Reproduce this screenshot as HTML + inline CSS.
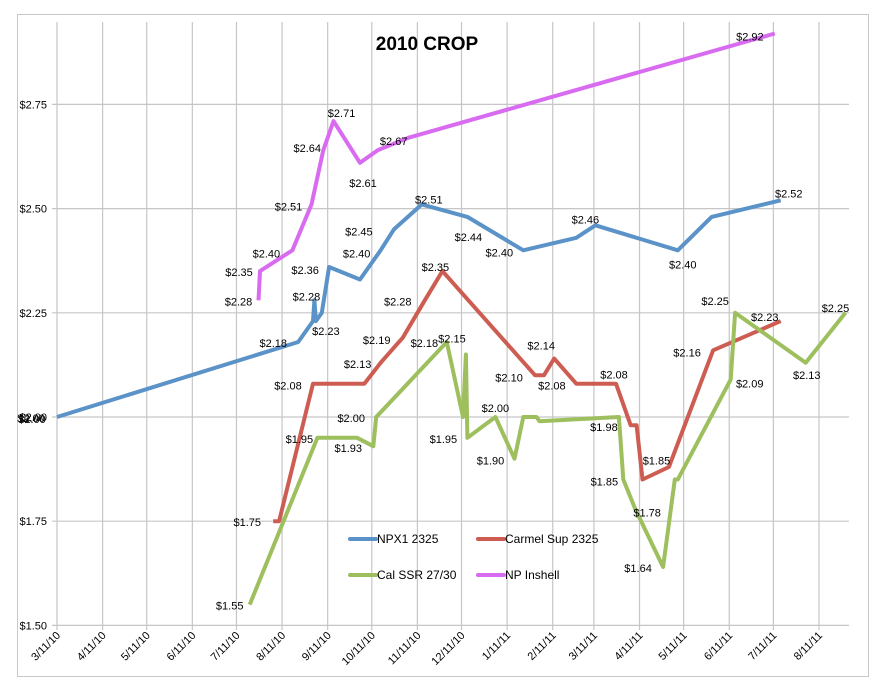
<!DOCTYPE html>
<html><head><meta charset="utf-8"><style>
html,body{margin:0;padding:0;background:#fff;}
svg{display:block;font-family:"Liberation Sans",sans-serif;}
</style></head><body>
<svg id="chart" width="889" height="696" viewBox="0 0 889 696" xmlns="http://www.w3.org/2000/svg">
<rect x="17.5" y="14.5" width="851" height="662" fill="#fff" stroke="#c8c8c8"/>
<g id="grid"></g><g id="axes"></g><g id="series"></g><g id="labels"></g>
<text x="427" y="50" text-anchor="middle" font-size="19" font-weight="bold">2010 CROP</text>
<g id="legend"></g>
</svg>
<script>
const xTickLabels = ["3/11/10","4/11/10","5/11/10","6/11/10","7/11/10","8/11/10","9/11/10","10/11/10","11/11/10","12/11/10","1/11/11","2/11/11","3/11/11","4/11/11","5/11/11","6/11/11","7/11/11","8/11/11"];
const yTicks = [1.50,1.75,2.00,2.25,2.50,2.75];
const seriesNames = ["NPX1 2325","Carmel Sup 2325","Cal SSR 27/30","NP Inshell"];
const blueDates = ["2010-03-11","2010-08-22","2010-09-01","2010-09-02","2010-09-03","2010-09-07","2010-09-12","2010-10-03","2010-10-17","2010-10-26","2010-11-14","2010-12-15","2011-01-22","2011-02-27","2011-03-12","2011-05-07","2011-05-30","2011-07-16"];
const blueValues = [2.00,2.18,2.23,2.28,2.23,2.25,2.36,2.33,2.40,2.45,2.51,2.48,2.40,2.43,2.46,2.40,2.48,2.52];
const redDates = ["2010-08-05","2010-08-09","2010-09-01","2010-10-06","2010-10-17","2010-10-27","2010-11-01","2010-11-16","2010-11-28","2011-01-30","2011-02-05","2011-02-12","2011-02-27","2011-03-26","2011-04-05","2011-04-09","2011-04-13","2011-05-01","2011-05-31","2011-07-16"];
const redValues = [1.75,1.75,2.08,2.08,2.13,2.17,2.19,2.28,2.35,2.10,2.10,2.14,2.08,2.08,1.98,1.98,1.85,1.88,2.16,2.23];
const greenDates = ["2010-07-20","2010-09-04","2010-10-01","2010-10-12","2010-10-14","2010-12-01","2010-12-12","2010-12-14","2010-12-15","2011-01-03","2011-01-16","2011-01-22","2011-01-31","2011-02-02","2011-03-28","2011-03-31","2011-04-08","2011-04-27","2011-05-05","2011-05-07","2011-06-12","2011-06-15","2011-08-02","2011-08-29"];
const greenValues = [1.55,1.95,1.95,1.93,2.00,2.18,2.00,2.15,1.95,2.00,1.90,2.00,2.00,1.99,2.00,1.85,1.78,1.64,1.85,1.85,2.09,2.25,2.13,2.25];
const pinkDates = ["2010-07-26","2010-07-27","2010-08-18","2010-08-31","2010-09-08","2010-09-15","2010-10-03","2010-10-15","2010-11-05","2011-07-12"];
const pinkValues = [2.28,2.35,2.40,2.51,2.64,2.71,2.61,2.64,2.67,2.92];
// label: series index, point index, text, offset
const pointLabels = [
[0,0,"$2.00",-25,2],[0,0,"$2.00",-26,1],[0,1,"$2.18",-25,1],[0,3,"$2.28",-8,-4],[0,4,"$2.23",10,10],[0,6,"$2.36",-24,3],[0,8,"$2.40",-24,3],[0,9,"$2.45",-35,2],[0,10,"$2.51",7,-5],[0,11,"$2.44",1,20],[0,12,"$2.40",-24,2],[0,14,"$2.46",-10,-6],[0,15,"$2.40",5,14],[0,17,"$2.52",8,-7],
[1,0,"$1.75",-26,1],[1,2,"$2.08",-25,2],[1,4,"$2.13",-23,1],[1,6,"$2.19",-26,2],[1,7,"$2.28",-27,1],[1,8,"$2.35",-7,-4],[1,5,"$2.18",29,-3],[1,9,"$2.10",-26,2],[1,10,"$2.08",8,10],[1,11,"$2.14",-13,-13],[1,13,"$2.08",-2,-9],[1,16,"$1.85",14,-19],[1,18,"$2.16",-26,2],[1,19,"$2.23",-16,-4],
[2,0,"$1.55",-20,1],[2,1,"$1.95",-18,1],[2,3,"$1.93",-25,2],[2,4,"$2.00",-25,1],[2,7,"$2.15",-14,-16],[2,8,"$1.95",-24,1],[2,10,"$1.90",-24,2],[2,9,"$2.00",0,-9],[2,14,"$1.98",-15,10],[2,15,"$1.85",-19,2],[2,16,"$1.78",12,4],[2,17,"$1.64",-25,1],[2,21,"$2.25",-20,-12],[2,20,"$2.09",19,4],[2,22,"$2.13",1,12],[2,23,"$2.25",-10,-5],
[3,0,"$2.28",-20,1],[3,1,"$2.35",-21,1],[3,2,"$2.40",-26,3],[3,3,"$2.51",-23,2],[3,4,"$2.64",-16,-2],[3,5,"$2.71",8,-8],[3,6,"$2.61",3,20],[3,7,"$2.67",16,-9],[3,9,"$2.92",-25,3]
];
const colors = ["#5b93c8","#cd5d52","#9dbf5e","#d86bf0"];
const NS="http://www.w3.org/2000/svg";
const T0 = Date.UTC(2010,2,11), DAY=86400000;
function xs(d){ const t = typeof d==="string" ? Date.parse(d+"T00:00:00Z") : d; return 57 + (t-T0)/DAY*1.471; }
function ys(v){ return 417 - (v-2)*416.8; }
function mk(tag,attrs,parent){const e=document.createElementNS(NS,tag);for(const k in attrs)e.setAttribute(k,attrs[k]);parent.appendChild(e);return e;}
const grid=document.getElementById('grid'), axes=document.getElementById('axes');
const tickDates = xTickLabels.map(s=>{const p=s.split('/');return Date.UTC(2000+ +p[2], +p[0]-1, +p[1]);});
tickDates.forEach((t,i)=>{
  const x=xs(t);
  const l=mk('line',{x1:x,x2:x,y1:22,y2:630,stroke:'#c6c6c6','stroke-width':1.2},grid);
  
  
  const tx=mk('text',{x:x+4,y:636,'font-size':11,'text-anchor':'end',transform:`rotate(-45 ${x+4} 636)`},axes);
  tx.textContent=xTickLabels[i];
  
  
});
yTicks.forEach(v=>{
  const y=ys(v);
  const l=mk('line',{x1:52,x2:849,y1:y,y2:y,stroke:'#c6c6c6','stroke-width':1.2},grid);
  
  
  const tx=mk('text',{x:47,y:y+4,'font-size':11,'text-anchor':'end'},axes);
  tx.textContent='$'+v.toFixed(2);
  
  
});
const allDates=[blueDates,redDates,greenDates,pinkDates], allVals=[blueValues,redValues,greenValues,pinkValues];
const sg=document.getElementById('series'), lg=document.getElementById('labels');
const lineNames=['npx1-line','carmel-line','cal-ssr-line','np-inshell-line'];
allDates.forEach((ds,s)=>{
  const pts=ds.map((d,i)=>xs(d).toFixed(1)+','+ys(allVals[s][i]).toFixed(1)).join(' ');
  const p=mk('polyline',{points:pts,fill:'none',stroke:colors[s],'stroke-width':4,'stroke-linejoin':'round'},sg);
  
  
});
pointLabels.forEach(([s,i,t,dx,dy])=>{
  const x=xs(allDates[s][i])+dx, y=ys(allVals[s][i])+dy;
  const tx=mk('text',{x:x,y:y+4,'font-size':11,'text-anchor':'middle'},lg);
  tx.textContent=t;
  
  
});
const leg=document.getElementById('legend');
const legPos=[[350,539],[478,539],[350,575],[478,575]];
seriesNames.forEach((n,s)=>{
  const [x,y]=legPos[s];
  const g=mk('g',{},leg);
  
  
  mk('line',{x1:x,x2:x+26,y1:y,y2:y,stroke:colors[s],'stroke-width':4,'stroke-linecap':'round'},g);
  const tx=mk('text',{x:x+27,y:y+4,'font-size':12},g);
  tx.textContent=n;
});
</script>
</body></html>
